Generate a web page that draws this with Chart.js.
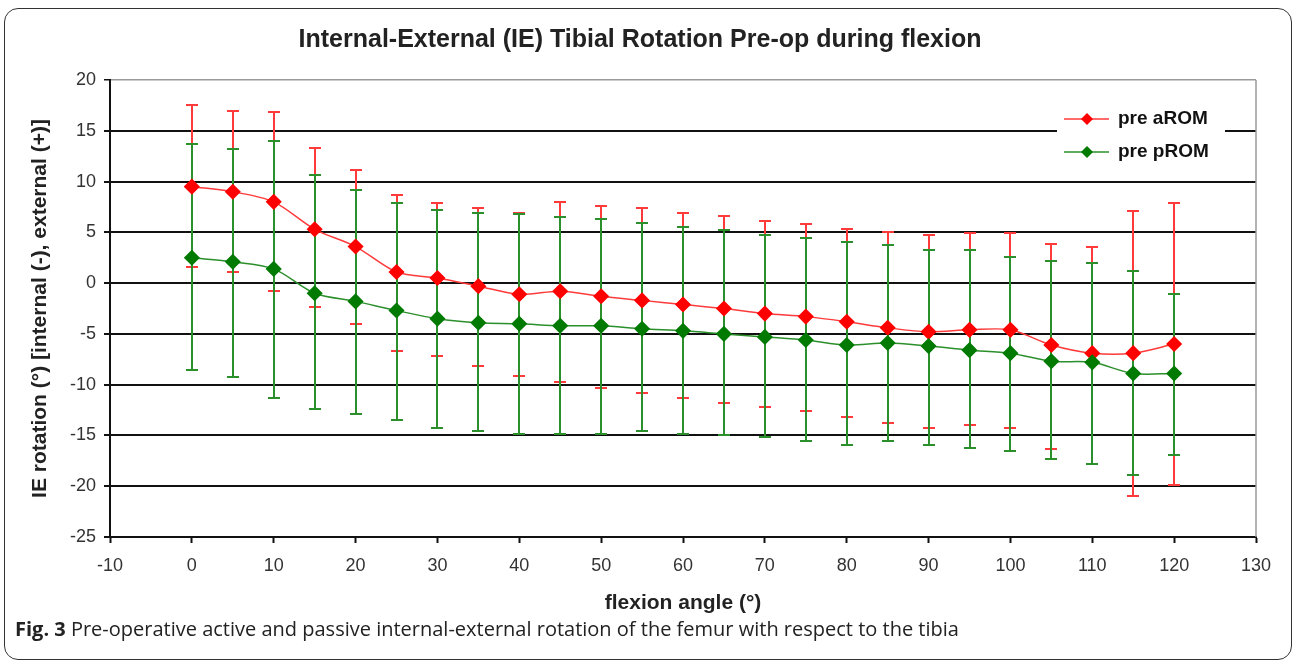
<!DOCTYPE html>
<html>
<head>
<meta charset="utf-8">
<script src="https://cdn.jsdelivr.net/npm/chart.js@4"></script>
<style>
  html, body { margin: 0; padding: 0; background: #fff; }
  body { width: 1295px; height: 664px; position: relative; overflow: hidden; }
  #wrap { position: absolute; left: 0; top: 0; width: 1295px; height: 620px; }
  #frame { position: absolute; left: 4px; top: 8px; width: 1286px; height: 650px; border: 1.5px solid #333; border-radius: 14px; pointer-events: none; }
  #caption { position: absolute; left: 15px; top: 615px; font-family: "Open Sans", sans-serif; font-size: 20px; color: #222; white-space: nowrap; }
</style>
</head>
<body>
<div id="wrap"><canvas id="ieChart"></canvas></div>
<div id="frame"></div>
<div id="caption"><b>Fig. 3</b> Pre-operative active and passive internal-external rotation of the femur with respect to the tibia</div>
<script>
// flexion angles (deg)
const angles = [0, 5, 10, 15, 20, 25, 30, 35, 40, 45, 50, 55, 60, 65, 70, 75, 80, 85, 90, 95, 100, 105, 110, 115, 120];

// pre aROM: mean and error bar ends
const aromMean  = [9.5, 9.0, 8.0, 5.3, 3.6, 1.1, 0.5, -0.3, -1.1, -0.8, -1.3, -1.7, -2.1, -2.5, -3.0, -3.3, -3.8, -4.4, -4.8, -4.6, -4.6, -6.1, -6.9, -6.9, -6.0];
const aromUpper = [17.5, 16.9, 16.8, 13.3, 11.1, 8.7, 7.9, 7.4, 6.9, 8.0, 7.6, 7.4, 6.9, 6.6, 6.1, 5.8, 5.3, 5.0, 4.7, 4.9, 4.9, 3.9, 3.6, 7.1, 7.9];
const aromLower = [1.6, 1.1, -0.8, -2.4, -4.0, -6.7, -7.2, -8.2, -9.1, -9.7, -10.3, -10.8, -11.3, -11.8, -12.2, -12.6, -13.2, -13.8, -14.3, -14.0, -14.3, -16.3, -17.8, -21.0, -19.9];

// pre pROM: mean and error bar ends
const promMean  = [2.5, 2.1, 1.4, -1.0, -1.8, -2.7, -3.5, -3.9, -4.0, -4.2, -4.2, -4.5, -4.7, -5.0, -5.3, -5.6, -6.1, -5.9, -6.2, -6.6, -6.9, -7.7, -7.8, -8.9, -8.9];
const promUpper = [13.7, 13.2, 14.0, 10.6, 9.2, 7.9, 7.2, 6.9, 6.8, 6.5, 6.3, 5.9, 5.5, 5.2, 4.7, 4.4, 4.0, 3.8, 3.3, 3.3, 2.6, 2.2, 2.0, 1.2, -1.1];
const promLower = [-8.6, -9.2, -11.3, -12.4, -12.9, -13.5, -14.3, -14.6, -14.9, -14.9, -14.9, -14.6, -14.9, -15.0, -15.2, -15.5, -15.9, -15.5, -15.9, -16.2, -16.5, -17.3, -17.8, -18.9, -16.9];

const RED = '#ff0000', RED_LINE = '#ff3a3a';
const GREEN = '#007a00', GREEN_LINE = '#2b8f2b';
const FONT = '"Liberation Sans", Arial, sans-serif';

const toPoints = (ys) => angles.map((a, i) => ({ x: a, y: ys[i] }));

// vertical error bars with caps, drawn under the lines
const errorBars = {
  id: 'errorBars',
  beforeDatasetsDraw(chart) {
    const { ctx } = chart;
    const xs = chart.scales.x, ys = chart.scales.y;
    [[aromUpper, aromLower, RED_LINE], [promUpper, promLower, GREEN_LINE]].forEach(([up, lo, col]) => {
      ctx.save();
      ctx.strokeStyle = col;
      ctx.lineWidth = 2;
      angles.forEach((a, i) => {
        const px = Math.round(xs.getPixelForValue(a));
        const pu = Math.round(ys.getPixelForValue(up[i]));
        const pl = Math.round(ys.getPixelForValue(lo[i]));
        ctx.beginPath();
        ctx.moveTo(px, pu); ctx.lineTo(px, pl);
        ctx.moveTo(px - 6, pu); ctx.lineTo(px + 6, pu);
        ctx.moveTo(px - 6, pl); ctx.lineTo(px + 6, pl);
        ctx.stroke();
      });
      ctx.restore();
    });
  }
};

// grey plot border on the right side
const plotBorder = {
  id: 'plotBorder',
  beforeDatasetsDraw(chart) {
    const { ctx, chartArea: a } = chart;
    ctx.save();
    ctx.strokeStyle = '#9a9a9a';
    ctx.lineWidth = 1.5;
    ctx.beginPath();
    ctx.moveTo(a.right, a.top);
    ctx.lineTo(a.right, a.bottom);
    ctx.stroke();
    ctx.restore();
  }
};

// legend box sitting inside the plot, top right
const legendBox = {
  id: 'legendBox',
  afterDatasetsDraw(chart) {
    const { ctx } = chart;
    ctx.save();
    ctx.fillStyle = '#fff';
    ctx.fillRect(1057, 104, 168, 62);
    const rows = [119, 152];
    chart.data.datasets.forEach((ds, i) => {
      const y = rows[i];
      ctx.strokeStyle = ds.borderColor;
      ctx.lineWidth = 1.5;
      ctx.beginPath();
      ctx.moveTo(1064, y); ctx.lineTo(1109, y);
      ctx.stroke();
      ctx.fillStyle = ds.pointBackgroundColor;
      ctx.beginPath();
      ctx.moveTo(1087, y - 6); ctx.lineTo(1093, y); ctx.lineTo(1087, y + 6); ctx.lineTo(1081, y);
      ctx.closePath();
      ctx.fill();
      ctx.fillStyle = '#111';
      ctx.font = 'bold 19px ' + FONT;
      ctx.textBaseline = 'middle';
      ctx.fillText(ds.label, 1118, y);
    });
    ctx.restore();
  }
};

new Chart(document.getElementById('ieChart'), {
  type: 'line',
  data: {
    datasets: [{
      label: 'pre aROM',
      data: toPoints(aromMean),
      borderColor: RED_LINE,
      borderWidth: 1.5,
      pointStyle: 'rectRot',
      pointRadius: 7,
      pointBackgroundColor: RED,
      pointBorderColor: RED,
      tension: 0.3,
      order: 2
    }, {
      label: 'pre pROM',
      data: toPoints(promMean),
      borderColor: GREEN_LINE,
      borderWidth: 1.5,
      pointStyle: 'rectRot',
      pointRadius: 7,
      pointBackgroundColor: GREEN,
      pointBorderColor: GREEN,
      tension: 0.3,
      order: 1
    }]
  },
  options: {
    responsive: true,
    maintainAspectRatio: false,
    animation: false,
    layout: { padding: { left: 24, right: 39, top: 0, bottom: 0 } },
    plugins: {
      legend: { display: false },
      tooltip: { enabled: false },
      title: {
        display: true,
        text: 'Internal-External (IE) Tibial Rotation Pre-op during flexion',
        color: '#222',
        font: { family: FONT, size: 25, weight: 'bold' },
        padding: { top: 25, bottom: 25 }
      }
    },
    scales: {
      x: {
        type: 'linear',
        min: -10,
        max: 130,
        ticks: { stepSize: 10, color: '#333', padding: 12, font: { family: FONT, size: 18 } },
        grid: { drawOnChartArea: false, drawTicks: true, tickLength: 6, tickColor: '#111', tickWidth: 2 },
        border: { color: '#111', width: 2 },
        title: {
          display: true,
          text: 'flexion angle (°)',
          color: '#222',
          font: { family: FONT, size: 21, weight: 'bold' },
          padding: { top: 4, bottom: 4 }
        },
        afterFit(scale) { scale.height = 83; }
      },
      y: {
        min: -25,
        max: 20,
        ticks: { stepSize: 5, color: '#333', padding: 8, font: { family: FONT, size: 18 } },
        grid: {
          color: (c) => c.tick && c.tick.value === 20 ? '#9a9a9a' : '#111',
          lineWidth: (c) => c.tick && c.tick.value === 20 ? 1.5 : 2,
          tickLength: 6,
          tickColor: '#111'
        },
        border: { color: '#111', width: 2 },
        title: {
          display: true,
          text: 'IE rotation (°) [internal (-), external (+)]',
          color: '#222',
          font: { family: FONT, size: 21, weight: 'bold' },
          padding: { top: 4, bottom: 4 }
        },
        afterFit(scale) { scale.width = 86; }
      }
    }
  },
  plugins: [plotBorder, errorBars, legendBox]
});
</script>
</body>
</html>
